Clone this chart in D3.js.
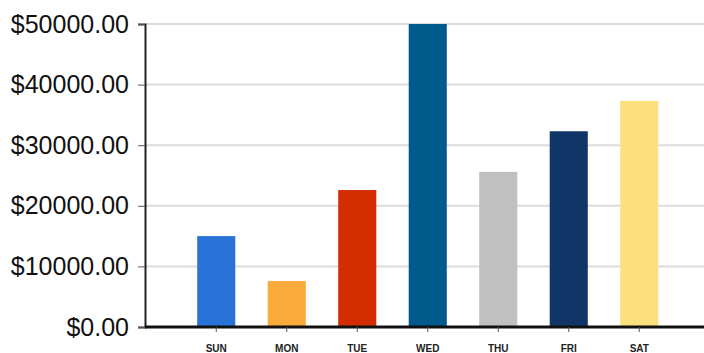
<!DOCTYPE html>
<html lang="en">
<head>
    <meta charset="UTF-8">
    <title>D3 bar chart</title>
    <script src="https://cdn.jsdelivr.net/npm/d3@7"></script>
    <style>
        body { margin: 0; background: #fff; }
    </style>
</head>
<body>
    <script>
    // data
    var days = ["SUN", "MON", "TUE", "WED", "THU", "FRI", "SAT"];
    var sales = [15000, 7600, 22600, 50000, 25600, 32300, 37300];
    var barColors = ["#2872d8", "#f9ab3c", "#d32c00", "#005b8c", "#c0c0c0", "#103567", "#fbe07c"];
    var yTicks = [0, 10000, 20000, 30000, 40000, 50000];

    var width = 704, height = 353;
    var marginLeft = 145, plotTop = 24, plotBottom = 327;

    var svg = d3.select("body").append("svg").attr("width", width).attr("height", height);

    var x = d3.scaleBand()
        .domain(days)
        .range([181, 674.5])
        .paddingInner(0.46)
        .paddingOuter(0.23);

    var y = d3.scaleLinear()
        .domain([0, 50000])
        .range([plotBottom, plotTop]);

    // grid lines
    svg.append("g")
        .selectAll("line")
        .data(yTicks.slice(1))
        .enter()
        .append("line")
        .attr("x1", marginLeft)
        .attr("x2", width)
        .attr("y1", function(d) { return y(d); })
        .attr("y2", function(d) { return y(d); })
        .attr("stroke", "#dcdcdc")
        .attr("stroke-width", 2);

    // bars
    svg.append("g")
        .selectAll("rect")
        .data(sales)
        .enter()
        .append("rect")
        .attr("x", function(d, i) { return x(days[i]); })
        .attr("y", function(d) { return y(d); })
        .attr("width", x.bandwidth())
        .attr("height", function(d) { return y(0) - y(d); })
        .attr("fill", function(d, i) { return barColors[i]; });

    // y axis
    var yAxis = svg.append("g")
        .attr("transform", "translate(" + marginLeft + ",0)")
        .call(d3.axisLeft(y).tickValues(yTicks).tickSize(7).tickPadding(9)
            .tickFormat(function(d) { return "$" + d3.format(".2f")(d); }));
    yAxis.select(".domain").attr("stroke", "#222").attr("stroke-width", 2);
    yAxis.selectAll(".tick line").attr("stroke", "#555");
    yAxis.selectAll("text")
        .attr("font-family", "Liberation Sans, Arial, sans-serif")
        .attr("font-size", "25px")
        .attr("fill", "#111");

    // x axis
    var xAxis = svg.append("g")
        .attr("transform", "translate(0," + plotBottom + ")")
        .call(d3.axisBottom(x).tickSize(5).tickPadding(13).tickSizeOuter(0));
    xAxis.select(".domain")
        .attr("d", "M" + marginLeft + ",0H" + width)
        .attr("stroke", "#111").attr("stroke-width", 3);
    xAxis.selectAll(".tick line").attr("stroke", "#555");
    xAxis.selectAll("text")
        .attr("font-family", "Liberation Sans, Arial, sans-serif")
        .attr("font-size", "10px")
        .attr("font-weight", "bold")
        .attr("fill", "#222");
    </script>
</body>
</html>
